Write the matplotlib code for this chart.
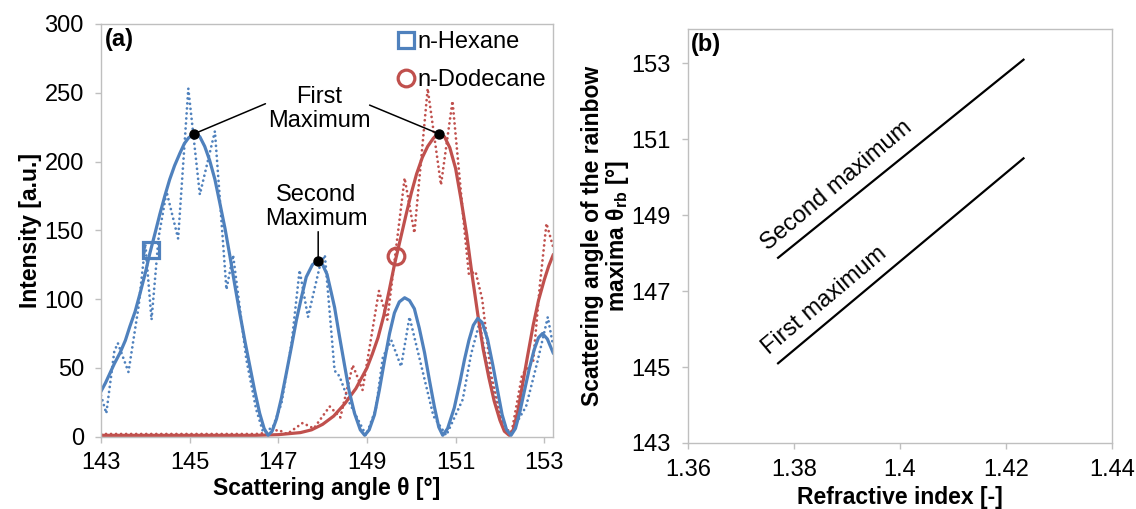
import matplotlib
matplotlib.use("Agg")
import matplotlib.pyplot as plt
from matplotlib.lines import Line2D

plt.rcParams["font.family"] = ["Liberation Sans", "DejaVu Sans"]

BLUE = "#4F81BD"
RED = "#C0504D"
GRID_GREY = "#BFBFBF"

# panel (a): fitted (solid) and measured (dotted) rainbow intensity
hex_fit_theta = [143.0, 143.1, 143.2, 143.3, 143.43, 143.55, 143.65, 143.77, 143.88, 144.0,
                 144.1, 144.22, 144.33, 144.44, 144.55, 144.66, 144.78, 144.88, 144.97, 145.09,
                 145.16, 145.23, 145.34, 145.45, 145.57, 145.68, 145.8, 145.91, 146.02, 146.13,
                 146.25, 146.36, 146.47, 146.58, 146.68, 146.77, 146.86, 146.96, 147.07, 147.18,
                 147.3, 147.41, 147.52, 147.63, 147.77, 147.9, 148.0, 148.1, 148.2, 148.27,
                 148.38, 148.5, 148.6, 148.72, 148.85, 148.95, 149.05, 149.17, 149.28, 149.4,
                 149.51, 149.62, 149.73, 149.85, 149.96, 150.07, 150.18, 150.3, 150.41, 150.52,
                 150.62, 150.71, 150.82, 150.97, 151.1, 151.2, 151.3, 151.4, 151.5, 151.6,
                 151.72, 151.84, 151.95, 152.05, 152.15, 152.25, 152.35, 152.45, 152.55, 152.66,
                 152.77, 152.87, 152.96, 153.07, 153.2]
hex_fit_int = [33, 39, 46, 53, 61, 70, 80, 91, 104, 119,
               133, 148, 162, 175, 187, 197, 206, 213, 217, 220,
               220, 218, 211, 201, 187, 170, 151, 131, 110, 90,
               69, 51, 33, 17, 6, 1, 4, 13, 28, 46,
               66, 85, 101, 116, 125, 128, 125, 118, 104, 94,
               73, 51, 33, 17, 5, 1, 5, 16, 34, 56,
               75, 90, 98, 101, 99, 93, 79, 61, 41, 22,
               7, 1, 6, 21, 40, 56, 70, 81, 86, 83,
               71, 52, 33, 16, 5, 1, 6, 18, 33, 49,
               63, 72, 75, 71, 61]

hex_meas_theta = [143.0, 143.12, 143.3, 143.38, 143.62, 143.85, 144.0, 144.14, 144.3, 144.48,
                  144.74, 144.97, 145.23, 145.57, 145.83, 145.98, 146.28, 146.5, 146.66, 146.88,
                  147.07, 147.3, 147.48, 147.67, 147.93, 148.05, 148.27, 148.38, 148.6, 148.98,
                  149.2, 149.36, 149.55, 149.77, 149.96, 150.2, 150.5, 150.79, 151.16, 151.35,
                  151.54, 151.69, 151.95, 152.21, 152.59, 152.85, 153.08, 153.2]
hex_meas_int = [30, 17, 62, 68, 47, 95, 140, 85, 145, 178,
                144, 253, 176, 222, 107, 132, 56, 20, 3, 7,
                24, 68, 121, 87, 123, 132, 48, 44, 25, 1,
                20, 58, 70, 51, 87, 55, 15, 1, 27, 60,
                83, 56, 20, 1, 22, 55, 87, 66]

dod_fit_theta = [143.0, 144.0, 145.0, 146.0, 146.5, 147.0, 147.5, 147.75, 148.0, 148.25,
                 148.5, 148.75, 149.0, 149.12, 149.25, 149.38, 149.5, 149.62, 149.75, 149.88,
                 150.0, 150.12, 150.25, 150.37, 150.5, 150.63, 150.75, 150.87, 151.0, 151.12,
                 151.25, 151.37, 151.5, 151.62, 151.75, 151.87, 152.0, 152.1, 152.21, 152.3,
                 152.4, 152.5, 152.62, 152.75, 152.87, 153.0, 153.1, 153.2]
dod_fit_int = [1, 1, 1, 1, 1, 1.5, 3, 5, 9, 15,
               24, 35, 50, 60, 72, 88, 106, 125, 143, 161,
               177, 191, 203, 211, 217, 220, 218, 210, 195, 173,
               147, 118, 89, 64, 43, 26, 12, 4, 1, 5,
               18, 36, 58, 81, 99, 114, 124, 132]

dod_meas_theta = [143.0, 144.0, 145.0, 146.0, 146.5, 146.8, 147.0, 147.2, 147.55, 147.8,
                  148.16, 148.4, 148.68, 148.9, 149.27, 149.46, 149.85, 150.07, 150.37, 150.67,
                  150.93, 151.2, 151.3, 151.45, 151.6, 151.8, 152.05, 152.25, 152.5, 152.75,
                  152.9, 153.05, 153.2]
dod_meas_int = [2, 2, 2, 2, 2, 3, 5, 2, 10, 6,
                22, 14, 52, 34, 106, 85, 188, 148, 253, 183,
                244, 150, 118, 120, 100, 45, 12, 1, 45, 55,
                110, 155, 138]

maxima_theta = [145.09, 150.63, 147.9]
maxima_int = [220, 220, 128]
marker_hex = (144.12, 136)
marker_dod = (149.66, 131)

# panel (b): rainbow maxima versus refractive index
ri = [1.377, 1.4233]
first_max = [145.1, 150.5]
second_max = [147.88, 153.1]

fig = plt.figure(figsize=(11.36, 5.09), dpi=100)
ax_a = fig.add_axes([0.0889, 0.142, 0.398, 0.811])
ax_b = fig.add_axes([0.6056, 0.1297, 0.3733, 0.8127])

dots = dict(linestyle=(0, (0.01, 1.8)), dash_capstyle="round", linewidth=2.0)
ax_a.plot(hex_meas_theta, hex_meas_int, color=BLUE, **dots)
ax_a.plot(dod_meas_theta, dod_meas_int, color=RED, **dots)
ax_a.plot(dod_fit_theta, dod_fit_int, color=RED, linewidth=2.3, solid_joinstyle="round")
ax_a.plot(hex_fit_theta, hex_fit_int, color=BLUE, linewidth=2.3, solid_joinstyle="round")
ax_a.plot(*marker_hex, marker="s", markersize=12, markerfacecolor="none",
          markeredgecolor=BLUE, markeredgewidth=2.3)
ax_a.plot(*marker_dod, marker="o", markersize=12, markerfacecolor="none",
          markeredgecolor=RED, markeredgewidth=2.3)

line_style = dict(arrowstyle="-", color="black", lw=1.1, shrinkA=0, shrinkB=0)
ax_a.annotate("", xy=(maxima_theta[0], maxima_int[0]), xytext=(146.71, 242), arrowprops=line_style)
ax_a.annotate("", xy=(maxima_theta[1], maxima_int[1]), xytext=(149.06, 241), arrowprops=line_style)
ax_a.annotate("", xy=(maxima_theta[2], maxima_int[2]), xytext=(147.9, 149), arrowprops=line_style)
ax_a.plot(maxima_theta, maxima_int, linestyle="none", marker="o", markersize=6.5, color="black")
ax_a.text(147.93, 238, "First\nMaximum", ha="center", va="center", fontsize=17, linespacing=1.1)
ax_a.text(147.86, 167, "Second\nMaximum", ha="center", va="center", fontsize=17, linespacing=1.1)
ax_a.text(0.008, 0.99, "(a)", transform=ax_a.transAxes, ha="left", va="top",
          fontsize=17, fontweight="bold")

handles = [
    Line2D([], [], linestyle="none", marker="s", markersize=12, markerfacecolor="none",
           markeredgecolor=BLUE, markeredgewidth=2.3, label="n-Hexane"),
    Line2D([], [], linestyle="none", marker="o", markersize=12, markerfacecolor="none",
           markeredgecolor=RED, markeredgewidth=2.3, label="n-Dodecane"),
]
ax_a.legend(handles=handles, loc="upper right", frameon=False, fontsize=17,
            handlelength=0.6, handletextpad=0.2, labelspacing=0.68,
            borderaxespad=0.0, borderpad=0.3)

ax_a.set_xlim(143, 153.2)
ax_a.set_ylim(0, 300)
ax_a.set_xticks([143, 145, 147, 149, 151, 153])
ax_a.set_yticks([0, 50, 100, 150, 200, 250, 300])
ax_a.set_xlabel("Scattering angle θ [°]", fontsize=16.5, fontweight="bold", labelpad=2)
ax_a.set_ylabel("Intensity [a.u.]", fontsize=16.5, fontweight="bold", labelpad=2)

ax_b.plot(ri, second_max, color="black", linewidth=1.6)
ax_b.plot(ri, first_max, color="black", linewidth=1.6)
ax_b.text(1.3881, 149.79, "Second maximum", rotation=40, rotation_mode="anchor",
          ha="center", va="center", fontsize=17)
ax_b.text(1.3858, 146.75, "First maximum", rotation=40, rotation_mode="anchor",
          ha="center", va="center", fontsize=17)
ax_b.text(0.008, 0.99, "(b)", transform=ax_b.transAxes, ha="left", va="top",
          fontsize=17, fontweight="bold")
ax_b.set_xlim(1.36, 1.44)
ax_b.set_ylim(143, 153.9)
ax_b.set_xticks([1.36, 1.38, 1.40, 1.42, 1.44])
ax_b.set_xticklabels(["1.36", "1.38", "1.4", "1.42", "1.44"])
ax_b.set_yticks([143, 145, 147, 149, 151, 153])
ax_b.set_xlabel("Refractive index [-]", fontsize=16.5, fontweight="bold", labelpad=4)
ax_b.set_ylabel("Scattering angle of the rainbow\nmaxima θ$_\\mathregular{rb}$ [°]",
                fontsize=16.5, fontweight="bold", labelpad=0, linespacing=1.0)

for ax in (ax_a, ax_b):
    for spine in ax.spines.values():
        spine.set_color(GRID_GREY)
        spine.set_linewidth(1.0)
    ax.tick_params(axis="both", which="major", labelsize=17, length=4.3, width=1.0,
                   color=GRID_GREY, direction="out")
    ax.tick_params(axis="x", pad=7)
    ax.tick_params(axis="y", pad=8)

fig.savefig("out.png", dpi=100)
